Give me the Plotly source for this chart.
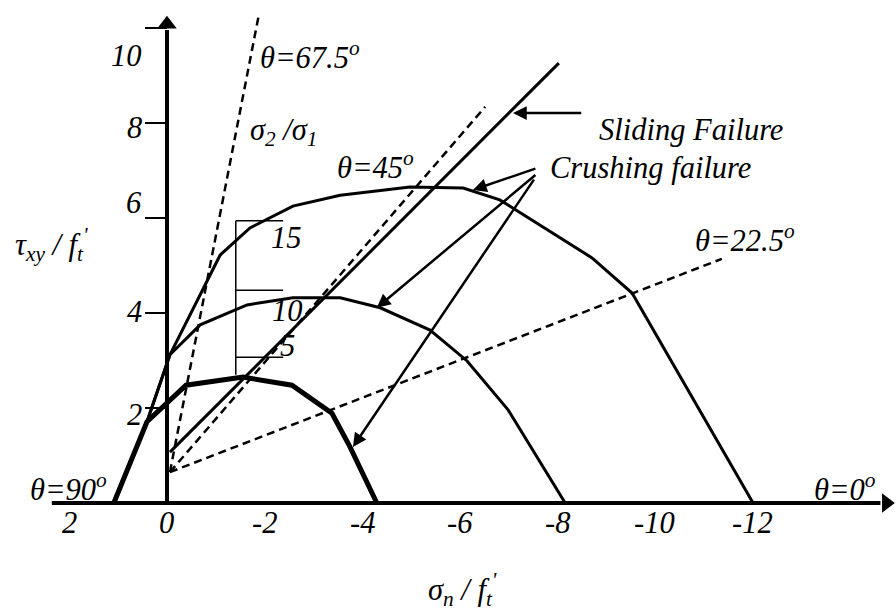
import plotly.graph_objects as go

# Crushing envelopes for principal-stress ratios σ2/σ1 = 15, 10, 5
# (σn/f't positive = tension, plotted to the left; τxy/f't upward)
ratio_15_sn = [1.09, 0.41, -0.06, -1.09, -1.70, -2.58, -3.55, -4.98, -6.07, -6.82, -8.71, -9.53, -12.01]
ratio_15_tau = [0.00, 1.71, 3.12, 5.22, 5.79, 6.25, 6.48, 6.65, 6.63, 6.38, 5.16, 4.42, 0.00]
ratio_10_sn = [1.09, 0.41, -0.06, -0.68, -1.64, -2.58, -3.55, -4.37, -5.39, -6.15, -6.99, -8.16]
ratio_10_tau = [0.00, 1.71, 3.12, 3.75, 4.17, 4.32, 4.32, 4.11, 3.64, 2.99, 1.96, 0.00]
ratio_5_sn = [1.09, 0.41, -0.39, -1.56, -2.56, -3.38, -3.75, -4.30]
ratio_5_tau = [0.00, 1.71, 2.48, 2.65, 2.48, 1.89, 1.18, 0.00]

# Sliding failure line
sliding_sn = [-0.06, -8.03]
sliding_tau = [1.07, 9.26]

# Principal-direction rays (θ = 67.5°, 45°, 22.5°)
ray_67_sn = [-0.06, -1.89]
ray_67_tau = [0.65, 10.32]
ray_45_sn = [-0.06, -6.52]
ray_45_tau = [0.65, 8.34]
ray_22_sn = [-0.06, -11.37]
ray_22_tau = [0.65, 5.14]

# Ratio scale bracket (σ2/σ1 = 15, 10, 5)
bracket_ratios = ["15", "10", "5"]
bracket_tau = [5.94, 4.48, 3.07]
bracket_bottom = 2.70
bracket_sn = [-1.41, -2.38]

# Axis ticks
x_tick_vals = [2, 0, -2, -4, -6, -8, -10, -12]
x_tick_text = ["2", "0", "-2", "-4", "-6", "-8", "-10", "-12"]
y_tick_vals = [2, 4, 6, 8, 10]
y_tick_text = ["2", "4", "6", "8", "10"]
y_label_shift = [-7, 1, 15, -5, -28]

FONT = "Liberation Serif, Times New Roman, serif"
FS = 30.5
BLACK = "black"

fig = go.Figure()


def line(xs, ys, width, dash="solid"):
    fig.add_trace(go.Scatter(x=xs, y=ys, mode="lines", hoverinfo="skip",
                             line=dict(color=BLACK, width=width, dash=dash),
                             showlegend=False))


# axes with arrow tips
line([2.36, -14.62], [0, 0], 4)
line([0, 0], [0, 9.96], 4)
fig.add_trace(go.Scatter(x=[-14.74], y=[0], mode="markers", hoverinfo="skip", showlegend=False,
                         marker=dict(symbol="triangle-right", size=17, color=BLACK)))
fig.add_trace(go.Scatter(x=[0], y=[10.08], mode="markers", hoverinfo="skip", showlegend=False,
                         marker=dict(symbol="triangle-up", size=17, color=BLACK)))

# y tick marks
tx, ty = [], []
for v in y_tick_vals:
    tx += [0.45, 0, None]
    ty += [v, v, None]
line(tx, ty, 2)

# rays
dash = "8px,5px"
line(ray_67_sn, ray_67_tau, 2.5, dash)
line(ray_45_sn, ray_45_tau, 2.5, dash)
line(ray_22_sn, ray_22_tau, 2.5, dash)

# sliding line
line(sliding_sn, sliding_tau, 3)

# envelopes
line(ratio_15_sn, ratio_15_tau, 3)
line(ratio_10_sn, ratio_10_tau, 3)
line(ratio_5_sn, ratio_5_tau, 5)

# bracket
bx = [bracket_sn[0], bracket_sn[0], None]
by = [bracket_tau[0], bracket_bottom, None]
for t in bracket_tau:
    bx += [bracket_sn[0], bracket_sn[1], None]
    by += [t, t, None]
line(bx, by, 1.5)

ann = []


def text(x, y, s, xanchor="left", yshift=0):
    ann.append(dict(x=x, y=y, text=s, showarrow=False, xanchor=xanchor, yanchor="middle",
                    yshift=yshift, font=dict(family=FONT, size=FS, color=BLACK)))


def arrow(x, y, ax, ay):
    ann.append(dict(x=x, y=y, ax=ax, ay=ay, axref="x", ayref="y", xref="x", yref="y",
                    text="", showarrow=True, arrowhead=2, arrowsize=1.1, arrowwidth=2.5,
                    arrowcolor=BLACK))


for v, s in zip(x_tick_vals, x_tick_text):
    text(v, 0, f"<i>{s}</i>", "center", yshift=-20)
for v, s, sh in zip(y_tick_vals, y_tick_text, y_label_shift):
    text(0.48, v, f"<i>{s}</i>", "right", yshift=sh)

# ratio labels beside the bracket
text(-2.10, 5.58, f"<i>{bracket_ratios[0]}</i>")
text(-2.12, 4.04, f"<i>{bracket_ratios[1]}</i>")
text(-2.27, 3.30, f"<i>{bracket_ratios[2]}</i>")

text(-1.87, 9.43, "<i>θ=67.5<sup>o</sup></i>")
text(-1.66, 7.81, "<i>σ<sub>2</sub> /σ<sub>1</sub></i>")
text(-3.44, 7.10, "<i>θ=45<sup>o</sup></i>")
text(-10.78, 5.56, "<i>θ=22.5<sup>o</sup></i>")
text(2.85, 0.32, "<i>θ=90<sup>o</sup></i>")
text(-13.22, 0.32, "<i>θ=0<sup>o</sup></i>")
text(-8.81, 7.85, "<i>Sliding Failure</i>")
text(-7.81, 7.05, "<i>Crushing failure</i>")

# axis titles
text(3.16, 5.45, "<i>τ<sub>xy</sub> / f<sub>t</sub><sup>'</sup></i>")
text(-6.05, -1.82, "<i>σ<sub>n</sub> / f<sub>t</sub><sup>'</sup></i>", "center")

# failure arrows
arrow(-7.09, 8.21, -8.52, 8.21)
arrow(-6.27, 6.59, -7.58, 7.05)
arrow(-4.30, 4.11, -7.58, 6.93)
arrow(-3.81, 1.18, -7.54, 6.84)

fig.update_layout(
    width=896, height=615,
    margin=dict(l=0, r=0, t=0, b=0),
    paper_bgcolor="white", plot_bgcolor="white",
    xaxis=dict(range=[3.422, -14.939], visible=False),
    yaxis=dict(range=[-2.358, 10.589], visible=False),
    annotations=ann,
    showlegend=False,
)

fig.write_html("out.html")
